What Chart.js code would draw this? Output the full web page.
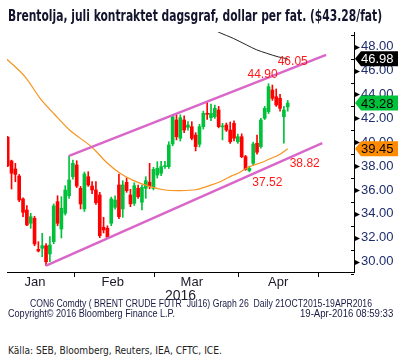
<!DOCTYPE html>
<html>
<head>
<meta charset="utf-8">
<script src="https://cdn.jsdelivr.net/npm/chart.js@4.4.1/dist/chart.umd.min.js"></script>
<style>
  body { margin: 0; background: #fff; width: 405px; height: 363px; overflow: hidden; position: relative; }
  #wrap { position: absolute; left: 0; top: 0; width: 405px; height: 305px; }
  .txt { position: absolute; white-space: pre; line-height: 1; transform-origin: 0 0; }
</style>
</head>
<body>
<div id="wrap"><canvas id="chart"></canvas></div>
<div id="title" class="txt" style="left:8px;top:6px;font:bold 16px 'Liberation Sans Narrow','DejaVu Sans Condensed',sans-serif;color:#14142e">Brentolja, juli kontraktet dagsgraf, dollar per fat. ($43.28/fat)</div>
<div id="foot1" class="txt" style="left:30px;top:298px;font:10px 'Liberation Sans',sans-serif;color:#1a1a44">CON6 Comdty ( BRENT CRUDE FUTR  Jul16) Graph 26  Daily 21OCT2015-19APR2016</div>
<div id="foot2" class="txt" style="left:8px;top:308px;font:10px 'Liberation Sans',sans-serif;color:#1a1a44">Copyright© 2016 Bloomberg Finance L.P.</div>
<div id="foot3" class="txt" style="left:300px;top:308px;font:10px 'Liberation Sans',sans-serif;color:#1a1a44">19-Apr-2016 08:59:33</div>
<div id="source" class="txt" style="left:8px;top:344px;font:11px 'Liberation Sans Narrow','DejaVu Sans Condensed',sans-serif;color:#222">Källa: SEB, Bloomberg, Reuters, IEA, CFTC, ICE.</div>
<script>
// daily candles, Jan - 19 Apr 2016 (trading day index 0..73)
var open  = [40.41,38.43,37.76,37.17,35.25,34.32,33.21,33.63,31.03,31.12,31.33,30.64,31.67,35.02,32.73,34.05,35.52,37.11,38.09,36.14,
             34.41,37.11,36.33,36.00,35.58,32.88,32.79,33.21,34.55,36.42,34.41,36.64,35.58,34.88,36.14,34.97,36.14,36.65,36.14,37.25,
             37.40,37.95,37.95,39.85,41.86,40.33,41.86,41.25,41.30,40.60,39.83,41.30,42.42,42.05,42.14,42.70,41.28,41.44,41.02,41.58,
             40.04,40.46,38.79,37.62,38.23,39.91,39.63,42.00,42.56,44.37,43.81,43.68,42.14,42.95];
var high  = [40.50,38.50,38.23,37.30,35.35,34.70,34.05,33.80,31.67,32.37,31.50,32.09,34.83,35.52,35.44,36.36,38.85,38.51,38.45,36.30,
             37.50,37.53,36.70,36.70,35.80,33.71,33.00,35.40,35.50,37.34,36.78,37.00,36.06,36.60,36.40,36.40,37.11,38.23,37.90,38.37,
             38.40,38.40,40.04,42.28,42.42,42.30,42.20,41.72,41.72,40.80,41.50,42.61,43.34,43.20,43.10,43.00,41.58,41.61,41.69,41.80,
             40.69,40.70,38.90,38.00,40.00,40.60,42.00,43.00,44.90,44.79,44.46,44.00,43.00,43.50];
var low   = [37.95,36.08,36.69,35.02,33.76,33.00,32.79,31.33,30.81,30.41,29.66,29.99,31.50,33.00,31.98,33.90,35.30,36.90,36.20,34.41,
             34.20,36.30,35.70,34.80,32.00,32.40,31.99,33.00,34.40,33.60,33.71,35.80,34.60,34.70,35.30,34.32,35.30,36.10,36.00,37.00,
             37.20,37.80,37.80,39.70,40.19,40.10,40.80,41.00,40.20,39.27,39.60,41.10,41.90,41.80,42.00,41.20,40.19,40.90,39.90,40.10,
             39.90,38.70,37.65,37.52,38.10,39.00,39.50,41.90,42.40,43.50,43.00,42.60,39.91,42.60];
var close = [38.03,37.40,37.31,35.16,34.13,33.07,33.76,31.48,30.89,31.33,29.99,31.39,34.66,33.21,34.47,36.00,36.84,38.23,36.33,34.83,
             37.34,36.42,36.00,34.93,32.17,32.65,32.04,35.25,35.16,33.76,36.42,35.94,34.83,36.36,35.44,36.22,36.78,36.33,37.73,37.81,
             37.95,38.03,39.77,42.14,40.46,42.05,41.02,41.44,40.33,39.63,41.30,42.42,42.34,42.42,42.84,41.30,41.32,41.02,40.04,40.33,
             40.46,38.79,37.72,37.81,39.85,39.16,41.86,42.84,44.65,43.68,43.12,42.84,42.70,43.28];

// moving averages: [day index, price]
var maShort = [[-0.2,46.95],[4.5,45.5],[8.4,43.7],[12.3,42.3],[16.2,41.0],[21.9,39.6],[25.8,38.3],[29.3,37.4],[32.7,36.8],
               [36.9,36.3],[41,36.0],[45,35.95],[49,36.02],[52,36.3],[55.8,36.75],[58.5,37.2],[60.1,37.4],[62.7,37.9],
               [66.2,38.3],[68.4,38.62],[70.5,38.9],[73,39.45]];
var maLong  = [[52,49.7],[55.3,49.17],[58.8,48.7],[62.3,48.14],[64.8,47.75],[67.5,47.45],[70.5,47.15],[73,46.98]];

// trend channel end points
var channelTop    = [[16,38.85],[83,47.31]];
var channelBottom = [[10,29.66],[82,39.93]];

var priceTicks  = [30,32,34,36,38,40,42,44,46,48];
var monthNames  = ['Jan','Feb','Mar','Apr'];
var monthMid    = [7.1,27.4,48.0,70.5];
var monthEdges  = [17.3,38.4,60.3,80.9];

var UP = '#00c23a', DOWN = '#ff0000', PINK = '#d966c8';
var last = close.length - 1;

function candleColor(i) { return close[i] >= open[i] ? UP : DOWN; }
function pts(arr) { return arr.map(function(p) { return {x: p[0], y: p[1]}; }); }

function fitText(id, w) {
  var el = document.getElementById(id);
  el.style.transform = 'scaleX(' + (w / el.offsetWidth) + ')';
}
fitText('title', 374);
fitText('foot1', 342);
fitText('foot2', 167);
fitText('foot3', 93);
fitText('source', 214);

var overlay = {
  id: 'overlay',
  afterDraw: function(chart) {
    var ctx = chart.ctx, y = chart.scales.y, x = chart.scales.x;
    var right = chart.chartArea.right;
    ctx.save();
    // minor ticks and arrow marks on the price axis
    ctx.strokeStyle = '#000'; ctx.lineWidth = 1;
    for (var v = 29; v <= 49; v++) {
      var py = Math.round(y.getPixelForValue(v)) + 0.5;
      if (v % 2) {
        ctx.beginPath(); ctx.moveTo(right - 3, py); ctx.lineTo(right, py); ctx.stroke();
      } else if (v >= 30 && v <= 48) {
        ctx.fillStyle = '#000';
        ctx.beginPath(); ctx.moveTo(right + 1, py - 2.5); ctx.lineTo(right + 6, py); ctx.lineTo(right + 1, py + 2.5); ctx.fill();
      }
    }
    // red value notes
    ctx.fillStyle = '#ff1a1a';
    ctx.font = '12px "Liberation Sans", sans-serif';
    ctx.textAlign = 'center'; ctx.textBaseline = 'middle';
    var hiIdx = high.indexOf(Math.max.apply(null, high));
    var loIdx = 63;
    function note(ix, val, dx, dy) {
      ctx.fillText(val.toFixed(2), x.getPixelForValue(ix) + dx, y.getPixelForValue(val) + dy);
    }
    note(hiIdx, high[hiIdx], -6, -9);
    note(last, 46.05, 5, -8);
    note(loIdx, low[loIdx], 18, 11);
    note(last, 38.82, 17, 7);
    // last value badges
    function badge(val, bg, fg) {
      var py = y.getPixelForValue(val), x0 = right + 1, x1 = right + 44, h = 15;
      ctx.fillStyle = bg;
      ctx.beginPath();
      ctx.moveTo(x0, py); ctx.lineTo(x0 + 6, py - h / 2); ctx.lineTo(x1, py - h / 2);
      ctx.lineTo(x1, py + h / 2); ctx.lineTo(x0 + 6, py + h / 2); ctx.closePath(); ctx.fill();
      ctx.fillStyle = fg;
      ctx.font = '13px "Liberation Sans", sans-serif';
      ctx.textAlign = 'left';
      ctx.fillText(val.toFixed(2), x0 + 6, py + 1);
    }
    badge(maLong[maLong.length - 1][1], '#000', '#fff');
    badge(close[last], UP, '#000');
    badge(maShort[maShort.length - 1][1], '#ff8c00', '#000');
    ctx.restore();
  }
};

new Chart(document.getElementById('chart'), {
  type: 'bar',
  data: {
    datasets: [
      { type: 'line', data: pts(channelTop), borderColor: PINK, borderWidth: 2.5, pointRadius: 0, order: 0 },
      { type: 'line', data: pts(channelBottom), borderColor: PINK, borderWidth: 2.5, pointRadius: 0, order: 0 },
      { type: 'line', data: pts(maShort), borderColor: '#f7941d', borderWidth: 1.2, pointRadius: 0, tension: 0.3, order: 1 },
      { type: 'line', data: pts(maLong), borderColor: '#222', borderWidth: 1, pointRadius: 0, tension: 0.3, order: 1 },
      { data: low.map(function(l, i) { return {x: i, y: [l, high[i]]}; }),
        backgroundColor: function(c) { return candleColor(c.dataIndex); },
        barThickness: 1, grouped: false, order: 3 },
      { data: open.map(function(o, i) { return {x: i, y: [o, close[i]]}; }),
        backgroundColor: function(c) { return candleColor(c.dataIndex); },
        barThickness: 3, minBarLength: 1, grouped: false, order: 2 }
    ]
  },
  options: {
    responsive: true,
    maintainAspectRatio: false,
    animation: false,
    layout: { padding: { left: 7, top: 32, right: 0, bottom: 0 } },
    plugins: { legend: { display: false }, tooltip: { enabled: false } },
    scales: {
      x: {
        type: 'linear', position: 'bottom', min: -0.18, max: 90.28, offset: false,
        afterBuildTicks: function(s) { s.ticks = monthEdges.map(function(v) { return {value: v}; }); },
        ticks: { display: false },
        grid: { drawOnChartArea: false, drawTicks: true, tickLength: 5, color: '#000', offset: false },
        border: { display: true, color: '#000', width: 1 },
        afterFit: function(s) { s.height = 3; }
      },
      x2: {
        type: 'linear', axis: 'x', position: 'bottom', min: -0.18, max: 90.28, offset: false,
        afterBuildTicks: function(s) { s.ticks = monthMid.map(function(v) { return {value: v}; }); },
        ticks: {
          autoSkip: false, maxRotation: 0, padding: 0, color: '#1a1a2a',
          font: { family: 'Liberation Sans', size: 13 },
          callback: function(v, i) { return monthNames[i]; }
        },
        grid: { display: false, drawTicks: false },
        border: { display: false },
        title: { display: true, text: '2016', color: '#1a1a2a', font: { family: 'Liberation Sans', size: 14 }, padding: { top: 0, bottom: 0 } },
        afterFit: function(s) { s.height = 30; }
      },
      y: {
        type: 'linear', position: 'right', min: 29.13, max: 49.23,
        afterBuildTicks: function(s) { s.ticks = priceTicks.map(function(v) { return {value: v}; }); },
        ticks: {
          padding: 7, color: '#1e2d6e',
          font: { family: 'Liberation Sans', size: 13 },
          callback: function(v) { return v.toFixed(2); }
        },
        grid: { display: false, drawTicks: false },
        border: { display: true, color: '#000', width: 1 },
        afterFit: function(s) { s.width = 51; }
      }
    }
  },
  plugins: [overlay]
});
</script>
</body>
</html>
